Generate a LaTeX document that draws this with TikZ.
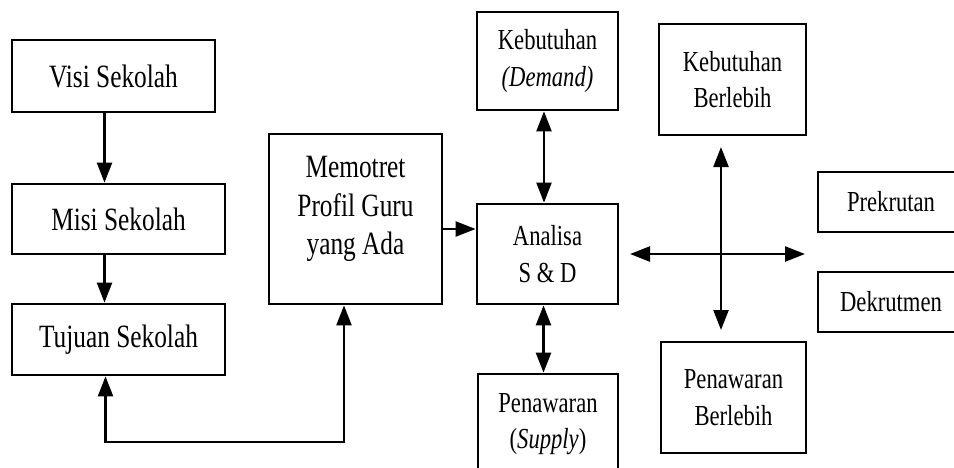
\documentclass[tikz,border=0pt]{standalone}
\usepackage{fontspec}
\setmainfont{Liberation Serif}
\newfontfamily\boxfont[FakeStretch=0.78]{Liberation Serif}
\usetikzlibrary{arrows.meta}

\begin{document}
\begin{tikzpicture}[x=1pt,y=-1pt,
  box/.style={draw,line width=2.8pt,rectangle,inner sep=0pt,align=center},
  bigtext/.style={font=\boxfont\fontsize{32.5}{38.5}\selectfont},
  smalltext/.style={font=\boxfont\fontsize{29}{36.5}\selectfont},
  link/.style={line width=2.4pt,-{Triangle[length=20pt,width=15pt]}},
  twoway/.style={line width=2.4pt,{Triangle[length=20pt,width=15pt]}-{Triangle[length=20pt,width=15pt]}}]

\fill[white] (0,0) rectangle (954,467);
\clip (0,0) rectangle (954,467);

% left column: school vision, mission, goals
\node[box,bigtext,minimum width=203pt,minimum height=72pt] (visi) at (113.5,76) {Visi Sekolah};
\node[box,bigtext,minimum width=213pt,minimum height=70pt] (misi) at (118.5,219) {Misi Sekolah};
\node[box,bigtext,minimum width=213pt,minimum height=71pt] (tujuan) at (118.5,339.5) {Tujuan Sekolah};

% teacher profile
\node[box,bigtext,minimum width=173pt,minimum height=170pt,text depth=27pt] (memo) at (355.5,219) {Memotret\\Profil Guru\\yang Ada};

% supply and demand analysis
\node[box,smalltext,minimum width=141pt,minimum height=100pt] (ana) at (547.5,254) {Analisa\\S \& D};
\node[box,smalltext,minimum width=141pt,minimum height=98pt] (dem) at (547.5,61) {Kebutuhan\\\textit{(Demand)}};
\node[box,smalltext,minimum width=140pt,minimum height=100pt] (sup) at (548,424) {Penawaran\\(\textit{Supply})};

% outcomes
\node[box,smalltext,minimum width=147pt,minimum height=111pt] (kb) at (732.5,79.5) {Kebutuhan\\Berlebih};
\node[box,smalltext,minimum width=145pt,minimum height=111pt] (pb) at (733.5,397.5) {Penawaran\\Berlebih};
\node[box,smalltext,minimum width=146pt,minimum height=60pt] (prek) at (891,202) {Prekrutan};
\node[box,smalltext,minimum width=146pt,minimum height=60pt] (dekr) at (891,302) {Dekrutmen};

% helper coordinates for connector positions
\coordinate (ax) at (104.5,0);
\coordinate (loopL) at (105.5,442);
\coordinate (loopR) at (344,442);
\coordinate (mh) at (0,229);
\coordinate (dx) at (544,0);
\coordinate (sx) at (543.5,0);
\coordinate (cl) at (630,254);
\coordinate (cr) at (805,254);
\coordinate (ct) at (721,147);
\coordinate (cb) at (721,330);

% connectors
\draw[link] (visi.south -| ax) -- (misi.north -| ax);
\draw[link] (misi.south -| ax) -- (tujuan.north -| ax);
\draw[twoway,line join=miter] (tujuan.south -| loopL) -- (loopL) -- (loopR) -- (memo.south -| loopR);
\draw[link] (memo.east |- mh) -- (ana.west |- mh);
\draw[twoway] (dem.south -| dx) -- (ana.north -| dx);
\draw[twoway] (ana.south -| sx) -- (sup.north -| sx);
\draw[twoway] (cl) -- (cr);
\draw[twoway] (ct) -- (cb);
\end{tikzpicture}
\end{document}
